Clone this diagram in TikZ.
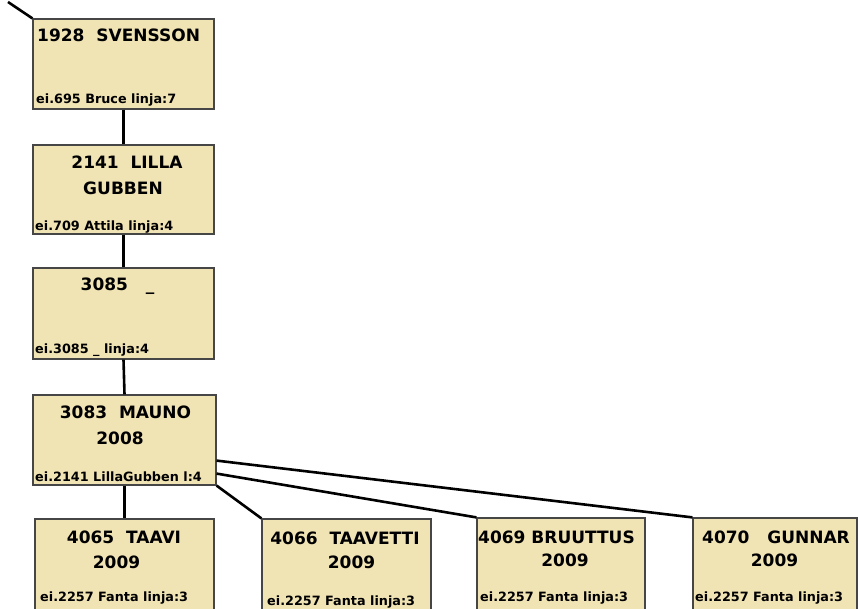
\documentclass[tikz,border=0pt]{standalone}
\usepackage{fontspec}
\newfontfamily\cf{DejaVu Sans}
\definecolor{boxfill}{RGB}{240,227,180}
\definecolor{boxline}{RGB}{70,70,70}
\begin{document}
\begin{tikzpicture}[x=1pt,y=-1pt,
  box/.style={draw=boxline,line width=1.2pt,fill=boxfill,rectangle,inner sep=0pt},
  ttl/.style={inner sep=0pt,font=\cf\bfseries\fontsize{17}{19}\selectfont},
  sub/.style={inner sep=0pt,anchor=west,font=\cf\bfseries\fontsize{12.8}{14}\selectfont},
  link/.style={line width=2.6pt,black}]
\useasboundingbox (0,0) rectangle (858,609);
\clip (0,0) rectangle (858,609);
\coordinate (top) at (8,2);
\node[box,minimum width=181pt,minimum height=90pt] (b1) at (123.5,64) {};
\node[box,minimum width=181pt,minimum height=89pt] (b2) at (123.5,189.5) {};
\node[box,minimum width=181pt,minimum height=91pt] (b3) at (123.5,313.5) {};
\node[box,minimum width=183pt,minimum height=90pt] (b4) at (124.5,440) {};
\node[box,minimum width=179pt,minimum height=101pt] (b5) at (124.5,569.5) {};
\node[box,minimum width=169pt,minimum height=101pt] (b6) at (346.5,569.5) {};
\node[box,minimum width=168pt,minimum height=102pt] (b7) at (561,569) {};
\node[box,minimum width=164pt,minimum height=102pt] (b8) at (775,569) {};
\draw[link] (top) -- (b1.north west);
\draw[link] (b1.south) -- (b2.north);
\draw[link] (b2.south) -- (b3.north);
\draw[link] (b3.south) -- (b4.north);
\draw[link] (b4.south) -- (b5.north);
\draw[link] (b4.south east) -- (b6.north west);
\draw[link] ([yshift=12pt]b4.south east) -- (b7.north west);
\draw[link] ([yshift=25pt]b4.south east) -- (b8.north west);
% texts
\node[ttl,anchor=west] (t1) at (37,35) {1928\ \ SVENSSON};
\node[sub] (s1) at (36,100) {ei.695 Bruce linja:7};
\node[ttl] (t2) at (127,162) {2141\ \ LILLA};
\node[ttl] (t2b) at (123,188) {GUBBEN};
\node[ttl] (t3) at (117.5,286) {3085\ \ \ \_};
\node[sub] (s2) at (35,227) {ei.709 Attila linja:4};
\node[sub] (s3) at (35,350) {ei.3085 \_ linja:4};
\node[ttl] (t4) at (125.5,412) {3083\ \ MAUNO};
\node[ttl] (t4b) at (120,438) {2008};
\node[sub] (s4) at (35,477) {ei.2141 LillaGubben l:4};
\node[ttl] (t5) at (124,537) {4065\ \ TAAVI};
\node[ttl] (t5b) at (116.5,562) {2009};
\node[sub] (s5) at (40,598) {ei.2257 Fanta linja:3};
\node[ttl] (t6) at (345,538) {4066\ \ TAAVETTI};
\node[ttl] (t6b) at (351.5,562) {2009};
\node[sub] (s6) at (267,602) {ei.2257 Fanta linja:3};
\node[ttl] (t7) at (556.5,537) {4069 BRUUTTUS};
\node[ttl] (t7b) at (565,560) {2009};
\node[sub] (s7) at (480,598) {ei.2257 Fanta linja:3};
\node[ttl] (t8) at (776,537) {4070\ \ \ GUNNAR};
\node[ttl] (t8b) at (774.5,560) {2009};
\node[sub] (s8) at (695,598) {ei.2257 Fanta linja:3};
\end{tikzpicture}
\end{document}
